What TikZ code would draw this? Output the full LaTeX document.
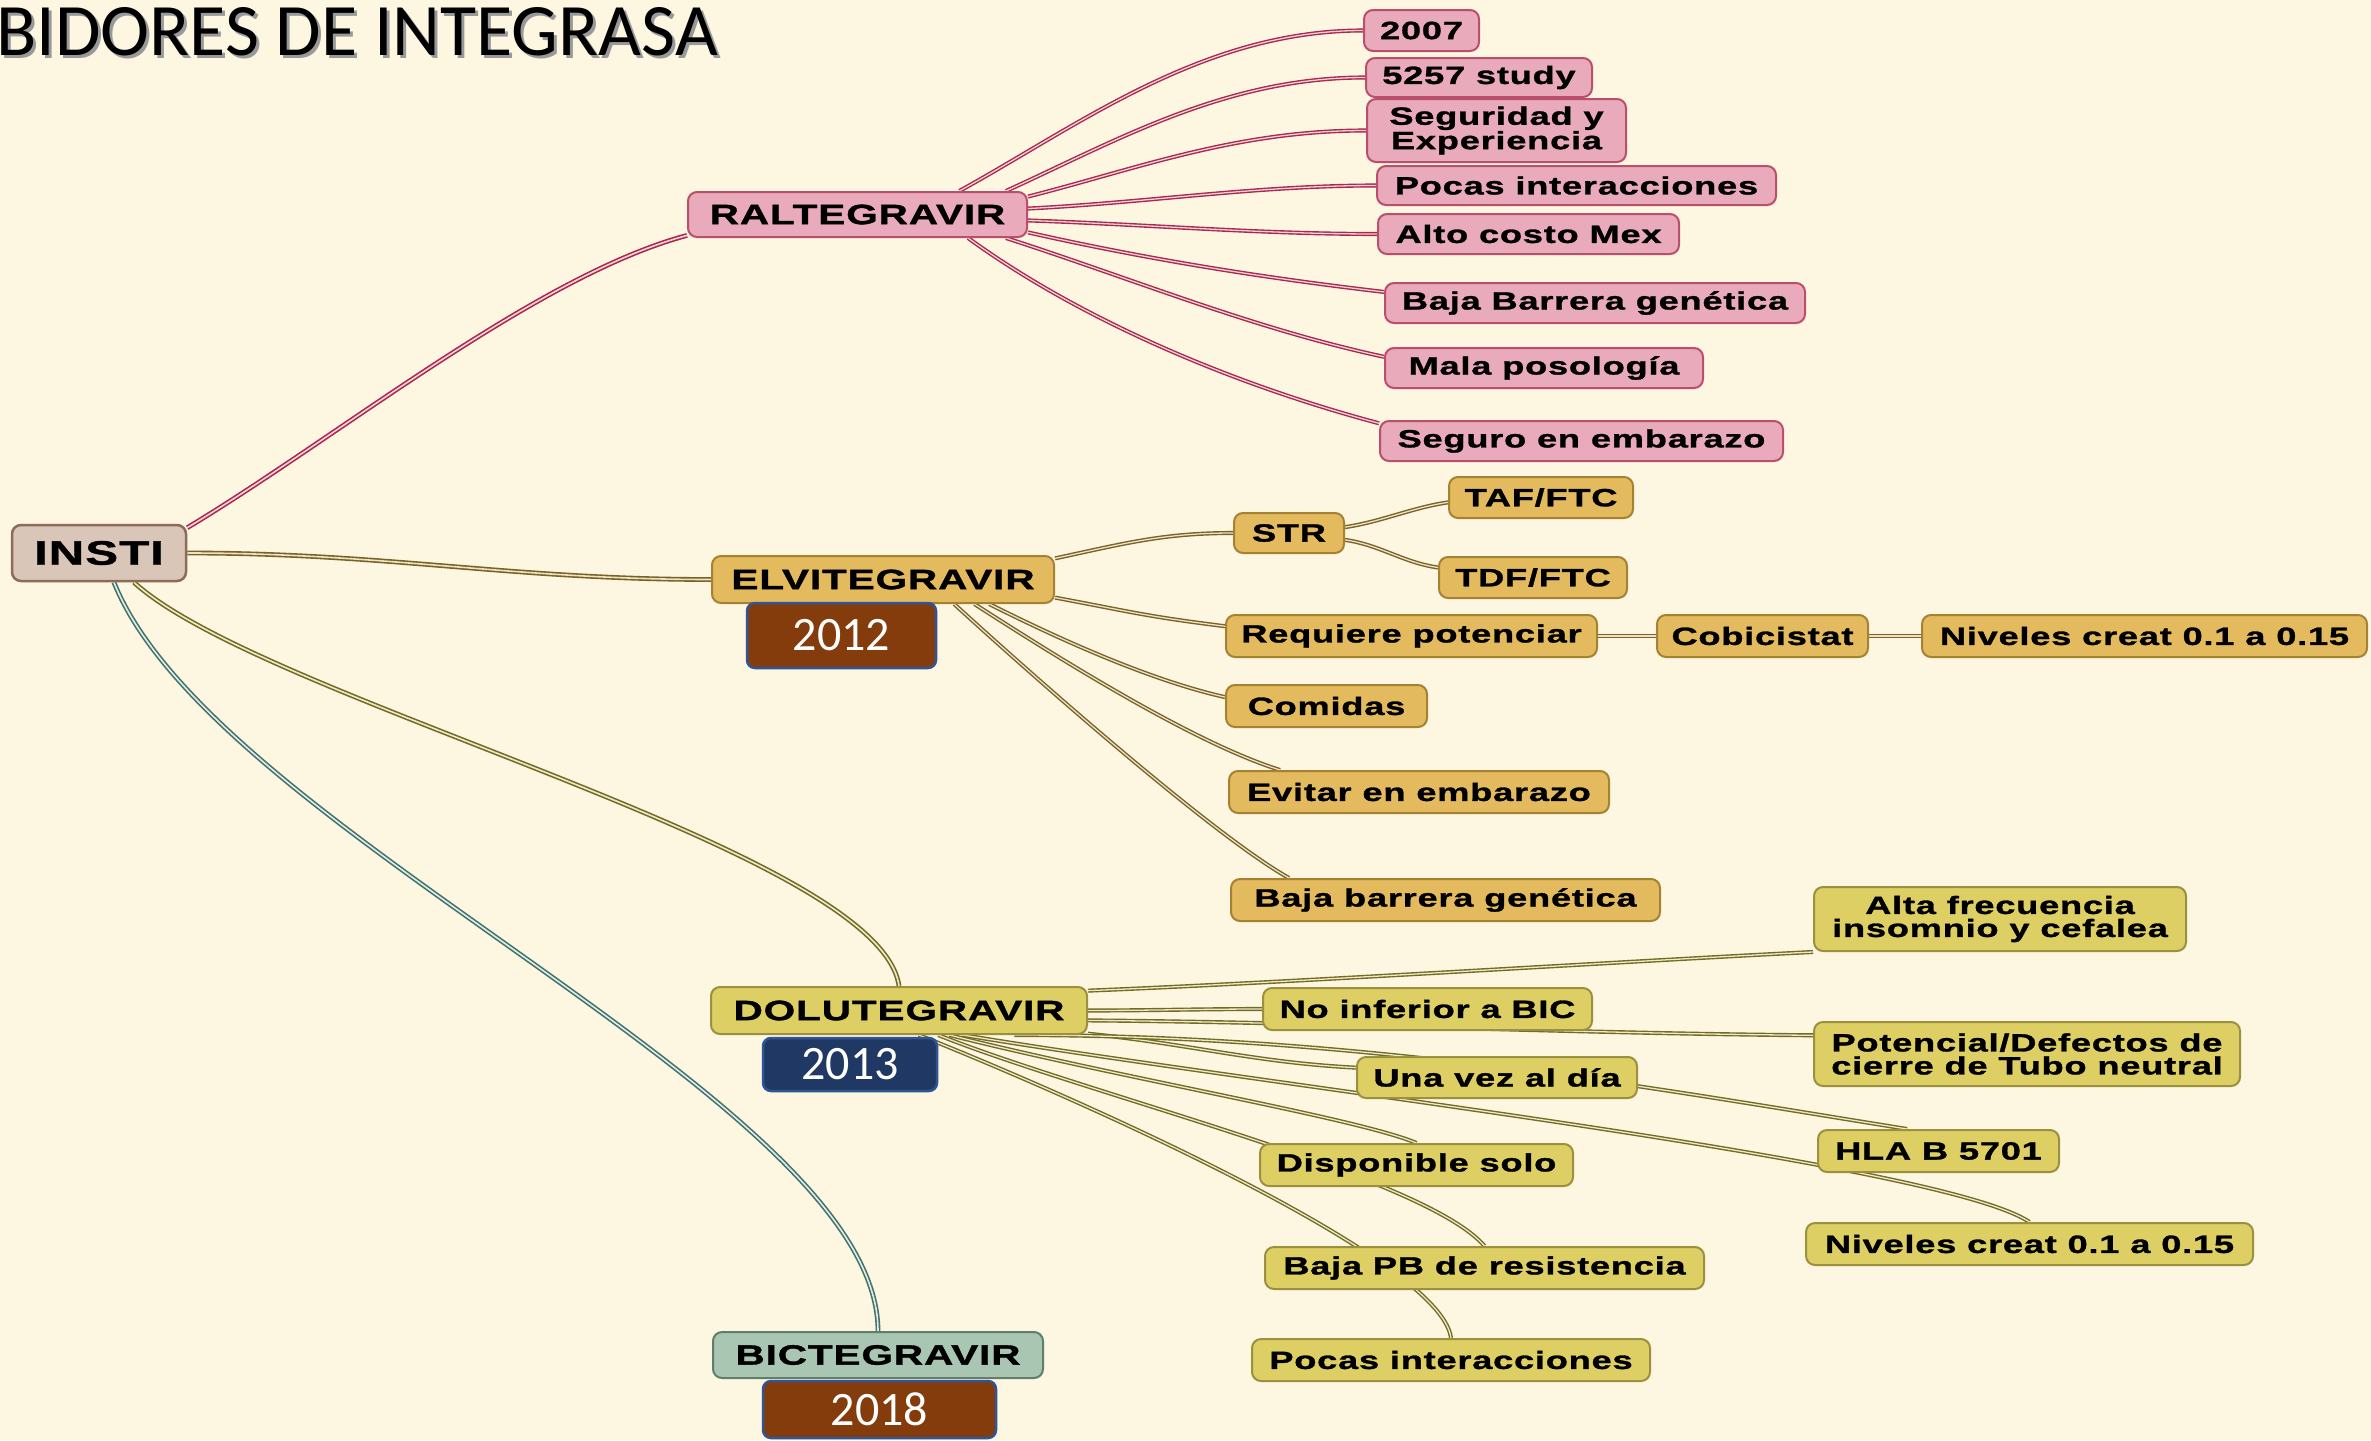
\documentclass[tikz,border=0pt]{standalone}
\usepackage{fontspec}
\newfontfamily\nf{Liberation Sans}[UprightFont={Liberation Sans Bold},BoldFont={Liberation Sans Bold},FakeStretch=1.45,LetterSpace=3,FakeBold=1.2]
\newfontfamily\cf{Carlito}
\pgfdeclarelayer{bg}
\pgfsetlayers{bg,main}

\definecolor{paper}{HTML}{FDF6E1}
\definecolor{pinkF}{HTML}{E9AABB}
\definecolor{pinkD}{HTML}{B94F6B}
\definecolor{pinkL}{HTML}{A8284E}
\definecolor{pinkLi}{HTML}{F4D2DA}
\definecolor{goldF}{HTML}{E4BA5E}
\definecolor{goldD}{HTML}{A58232}
\definecolor{goldL}{HTML}{76622C}
\definecolor{goldLi}{HTML}{F0E2BC}
\definecolor{oliveF}{HTML}{DDCF63}
\definecolor{oliveD}{HTML}{9A903F}
\definecolor{oliveL}{HTML}{716A28}
\definecolor{oliveLi}{HTML}{EFEAC2}
\definecolor{instiF}{HTML}{D9C6B9}
\definecolor{instiD}{HTML}{8B6D57}
\definecolor{bictF}{HTML}{A8C6B2}
\definecolor{bictD}{HTML}{5F7E6C}
\definecolor{bictL}{HTML}{45706B}
\definecolor{bictLi}{HTML}{DDEEE9}
\definecolor{yearBrown}{HTML}{843C0C}
\definecolor{yearNavy}{HTML}{1F3864}
\definecolor{yearD}{HTML}{2F5597}

\begin{document}
\begin{tikzpicture}[x=1pt,y=-1pt,
  box/.style={draw, line width=2pt, rounded corners=9pt, inner sep=0pt,
    align=center, text=black, font=\nf\fontsize{25}{23}\selectfont},
  bigbox/.style={box, font=\nf\fontsize{28}{28}\selectfont},
  rootbox/.style={box, line width=2.5pt, font=\nf\fontsize{34}{34}\selectfont,
    fill=instiF, draw=instiD},
  pinkc/.style={fill=pinkF, draw=pinkD},
  goldc/.style={fill=goldF, draw=goldD},
  olivec/.style={fill=oliveF, draw=oliveD},
  bictc/.style={fill=bictF, draw=bictD},
  yearbox/.style={draw=yearD, line width=2.5pt, rounded corners=8pt, inner sep=0pt,
    text=white, font=\cf\fontsize{48}{48}\selectfont},
  link/.style={line width=1.4pt, double distance=1.3pt},
  mainlink/.style={line width=1.6pt, double distance=1.6pt},
  pinklink/.style={link, draw=pinkL, double=pinkLi},
  goldlink/.style={link, draw=goldL, double=goldLi},
  olivelink/.style={link, draw=oliveL, double=oliveLi},
]
\useasboundingbox (0,0) rectangle (2371,1440);

% ---------- title ----------
\node[anchor=base west, inner sep=0pt, text=black!40, font=\cf\fontsize{74}{74}\selectfont]
  (titleshadow) at (-1,58) {BIDORES DE INTEGRASA};
\node[anchor=base west, inner sep=0pt, text=black, font=\cf\fontsize{74}{74}\selectfont]
  (title) at (-4,55) {BIDORES DE INTEGRASA};

% ---------- root and main branches ----------
\node[rootbox, minimum width=174pt, minimum height=56pt] (insti) at (99,553) {INSTI};
\node[bigbox, pinkc, minimum width=339pt, minimum height=45pt] (ralt) at (857.5,214.5) {RALTEGRAVIR};
\node[bigbox, goldc, minimum width=342pt, minimum height=47pt] (elvi) at (883,579.5) {ELVITEGRAVIR};
\node[bigbox, olivec, minimum width=376pt, minimum height=47pt] (dolu) at (899,1010.5) {DOLUTEGRAVIR};
\node[bigbox, bictc, minimum width=330pt, minimum height=46pt] (bict) at (878,1355) {BICTEGRAVIR};

% ---------- year labels ----------
\node[yearbox, fill=yearBrown, minimum width=189pt, minimum height=65pt] (y2012) at (841.5,635.5) {2012};
\node[yearbox, fill=yearNavy, minimum width=174pt, minimum height=53pt] (y2013) at (850,1064.5) {2013};
\node[yearbox, fill=yearBrown, minimum width=233pt, minimum height=57pt] (y2018) at (879.5,1409.5) {2018};

% ---------- raltegravir topics ----------
\node[box, pinkc, minimum width=115pt, minimum height=41pt] (c2007) at (1421.5,30.5) {2007};
\node[box, pinkc, minimum width=226pt, minimum height=39pt] (c5257) at (1479,77.5) {5257 study};
\node[box, pinkc, minimum width=259pt, minimum height=63pt] (cseg) at (1496.5,130.5) {Seguridad y\\Experiencia};
\node[box, pinkc, minimum width=399pt, minimum height=39pt] (cpoc1) at (1576.5,185.5) {Pocas interacciones};
\node[box, pinkc, minimum width=301pt, minimum height=40pt] (calto) at (1528.5,234) {Alto costo Mex};
\node[box, pinkc, minimum width=420pt, minimum height=40pt] (cbbr) at (1595,303) {Baja Barrera genética};
\node[box, pinkc, minimum width=318pt, minimum height=40pt] (cmala) at (1544,368) {Mala posología};
\node[box, pinkc, minimum width=403pt, minimum height=40pt] (csegu) at (1581.5,441) {Seguro en embarazo};

% ---------- elvitegravir topics ----------
\node[box, goldc, minimum width=110pt, minimum height=40pt] (cstr) at (1289,533) {STR};
\node[box, goldc, minimum width=184pt, minimum height=41pt] (ctaf) at (1541,497.5) {TAF/FTC};
\node[box, goldc, minimum width=188pt, minimum height=41pt] (ctdf) at (1533,577.5) {TDF/FTC};
\node[box, goldc, minimum width=371pt, minimum height=42pt] (creq) at (1411.5,636) {Requiere potenciar};
\node[box, goldc, minimum width=211pt, minimum height=42pt] (ccob) at (1762.5,636) {Cobicistat};
\node[box, goldc, minimum width=445pt, minimum height=42pt] (cniv1) at (2144.5,636) {Niveles creat 0.1 a 0.15};
\node[box, goldc, minimum width=201pt, minimum height=42pt] (ccom) at (1326.5,706) {Comidas};
\node[box, goldc, minimum width=380pt, minimum height=42pt] (cevi) at (1419,792) {Evitar en embarazo};
\node[box, goldc, minimum width=429pt, minimum height=42pt] (cbbe) at (1445.5,900) {Baja barrera genética};

% ---------- dolutegravir topics ----------
\node[box, olivec, minimum width=372pt, minimum height=64pt] (calta) at (2000,919) {Alta frecuencia\\insomnio y cefalea};
\node[box, olivec, minimum width=329pt, minimum height=42pt] (cnoinf) at (1427.5,1009) {No inferior a BIC};
\node[box, olivec, minimum width=426pt, minimum height=64pt] (cpot) at (2027,1054) {Potencial/Defectos de\\cierre de Tubo neutral};
\node[box, olivec, minimum width=280pt, minimum height=41pt] (cuna) at (1497,1077.5) {Una vez al día};
\node[box, olivec, minimum width=241pt, minimum height=42pt] (chla) at (1938.5,1151) {HLA B 5701};
\node[box, olivec, minimum width=447pt, minimum height=42pt] (cniv2) at (2029.5,1244) {Niveles creat 0.1 a 0.15};
\node[box, olivec, minimum width=313pt, minimum height=42pt] (cdisp) at (1416.5,1165) {Disponible solo};
\node[box, olivec, minimum width=439pt, minimum height=42pt] (cbpb) at (1484.5,1268) {Baja PB de resistencia};
\node[box, olivec, minimum width=398pt, minimum height=42pt] (cpoc2) at (1451,1360) {Pocas interacciones};

\begin{pgfonlayer}{bg}
\fill[paper] (0,0) rectangle (2371,1440);

% root branches
\draw[mainlink, draw=pinkL, double=pinkLi]
  (insti.16) .. controls +(150,-90) and +(-150,40) .. (ralt.187);
\draw[mainlink, draw=goldL, double=goldLi]
  (insti.east) .. controls +(200,0) and +(-200,0) .. (elvi.west);
\draw[mainlink, draw=oliveL, double=oliveLi]
  (insti.-40) .. controls +(130,119) and +(-19,-137) .. (dolu.north);
\draw[mainlink, draw=bictL, double=bictLi]
  (insti.-63) .. controls +(100,250) and +(0,-231) .. (bict.north);

% raltegravir fan
\draw[pinklink] (ralt.13) .. controls +(120,-66) and +(-160,0) .. (c2007.west);
\draw[pinklink] (ralt.9) .. controls +(110,-50) and +(-140,0) .. (c5257.west);
\draw[pinklink] (ralt.6) .. controls +(110,-28) and +(-130,0) .. (cseg.west);
\draw[pinklink] (ralt.2) .. controls +(120,-6) and +(-120,0) .. (cpoc1.west);
\draw[pinklink] (ralt.-2) .. controls +(120,4) and +(-120,0) .. (calto.west);
\draw[pinklink] (ralt.-6) .. controls +(120,27) and +(-120,-14) .. (cbbr.177);
\draw[pinklink] (ralt.-9) .. controls +(130,42) and +(-130,-28) .. (cmala.176);
\draw[pinklink] (ralt.-12) .. controls +(110,80) and +(-150,-40) .. (csegu.175);

% elvitegravir fan
\draw[goldlink] (elvi.7) .. controls +(70,-15) and +(-70,0) .. (cstr.west);
\draw[goldlink] (elvi.-6) .. controls +(80,15) and +(-80,-10) .. (creq.177);
\draw[goldlink] (elvi.-13) .. controls +(60,30) and +(-80,-18) .. (ccom.175);
\draw[goldlink] (elvi.-15) .. controls +(70,45) and +(-90,-28) .. (cevi.171);
\draw[goldlink] (elvi.-19) .. controls +(60,55) and +(-80,-45) .. (cbbe.172.5);
\draw[goldlink] (cstr.6) .. controls +(35,-5) and +(-35,5) .. (ctaf.183);
\draw[goldlink] (cstr.-7) .. controls +(35,5) and +(-35,-5) .. (ctdf.174);
\draw[goldlink] (creq.east) -- (ccob.west);
\draw[goldlink] (ccob.east) -- (cniv1.west);

% dolutegravir fan
\draw[olivelink] (dolu.6) .. controls +(200,-8) and +(-200,10) .. (calta.190);
\draw[olivelink] (dolu.east) .. controls +(60,0) and +(-60,0) .. (cnoinf.west);
\draw[olivelink] (dolu.-3.5) .. controls +(250,2) and +(-250,-2) .. (cpot.175);
\draw[olivelink] (dolu.-7) .. controls +(100,10) and +(-100,-5) .. (cuna.176);
\draw[olivelink] (dolu.-12) .. controls +(350,0) and +(-250,-40) .. (chla.145);
\draw[olivelink] (dolu.-21) .. controls +(300,50) and +(-90,-60) .. (cniv2.north);
\draw[olivelink] (dolu.-26) .. controls +(180,45) and +(-60,-25) .. (cdisp.north);
\draw[olivelink] (dolu.-32) .. controls +(150,60) and +(-60,-70) .. (cbpb.north);
\draw[olivelink] (dolu.-51) .. controls +(150,60) and +(-10,-80) .. (cpoc2.north);
\end{pgfonlayer}
\end{tikzpicture}
\end{document}
